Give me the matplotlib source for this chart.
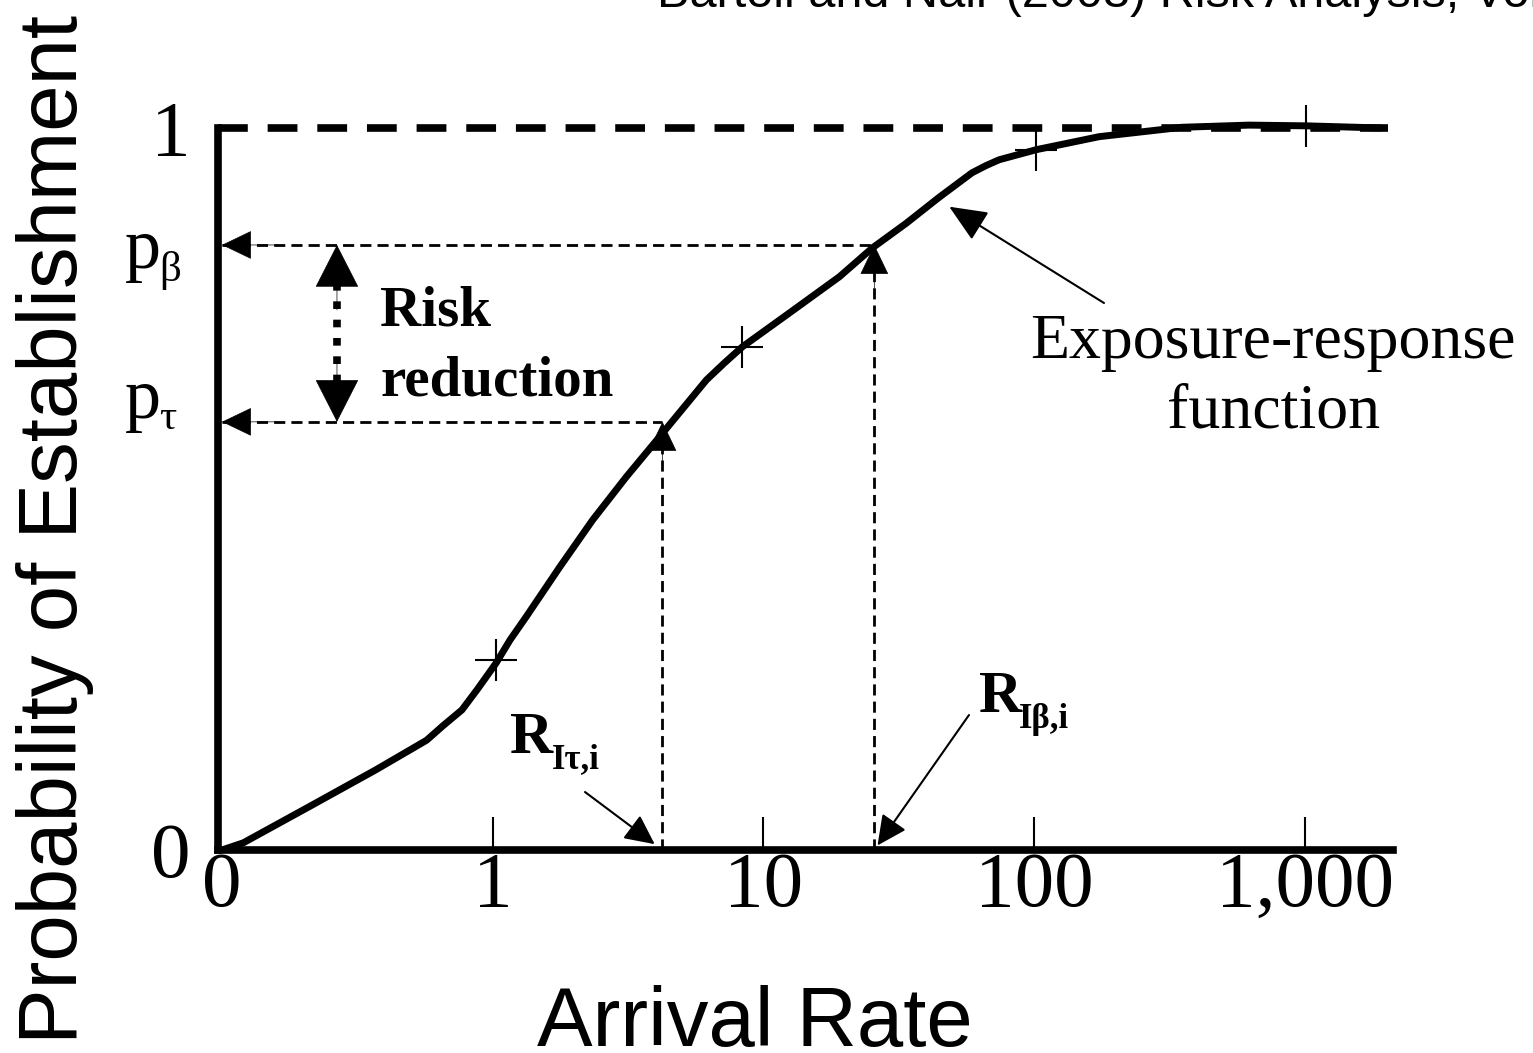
import matplotlib.pyplot as plt

W, H = 1533, 1053
DPI = 100

# exposure-response curve (arrival rate, probability of establishment)
rates = [0.1, 0.12, 0.21, 0.37, 0.57, 0.655, 0.77, 0.88, 1.03, 1.16, 1.33, 1.77,
         2.34, 3.12, 4.13, 6.16, 7.2, 8.37, 12.5, 19.1, 25.3, 33.7, 44.6, 59.0,
         66.5, 74.3, 102, 174, 352, 622, 1010, 1920]
probs = [0.0, 0.010, 0.060, 0.111, 0.152, 0.172, 0.194, 0.223, 0.259, 0.291,
         0.323, 0.392, 0.457, 0.517, 0.572, 0.651, 0.675, 0.697, 0.744, 0.794,
         0.834, 0.868, 0.904, 0.938, 0.948, 0.956, 0.970, 0.988, 1.001, 1.004,
         1.003, 1.0]

# '+' marks on the curve
mark_rates = [1.03, 8.37, 102, 1010]
mark_probs = [0.263, 0.697, 0.970, 1.003]

tick_rates = [0.1, 1, 10, 100, 1000]
tick_labels = ['0', '1', '10', '100', '1,000']

p_beta, p_tau = 0.838, 0.593
r_beta, r_tau = 25.7, 4.24
risk_x = 0.266

SERIF = 'Liberation Serif'
SANS = 'Liberation Sans'
plt.rcParams['font.family'] = SERIF


def fpx(x, y):
    # pixel from top-left -> figure fraction
    return x / W, 1 - y / H


def head(ax, xy, xytext, hl, hw, **kw):
    ax.annotate('', xy=xy, xytext=xytext,
                arrowprops=dict(arrowstyle='-|>,head_length=%g,head_width=%g' % (hl, hw),
                                mutation_scale=10, color='k', shrinkA=0, **kw))


fig = plt.figure(figsize=(W / DPI, H / DPI), dpi=DPI)
ax = fig.add_axes([218 / W, 1 - 850 / H, (1393 - 218) / W, (850 - 128) / H])
ax.set_xscale('log')
ax.set_xlim(0.0967, 2118)
ax.set_ylim(0, 1)
ax.patch.set_visible(False)
for s in ['top', 'right']:
    ax.spines[s].set_visible(False)
for s in ['left', 'bottom']:
    ax.spines[s].set_linewidth(5.5)
    ax.spines[s].set_capstyle('projecting')

ax.set_xticks(tick_rates, tick_labels)
ax.minorticks_off()
ax.tick_params(axis='x', direction='in', length=24, width=1.5, pad=1, labelsize=57)
ax.xaxis.get_major_ticks()[0].tick1line.set_visible(False)
ax.set_yticks([0, 1], ['0', '1'])
ax.tick_params(axis='y', length=0, pad=20, labelsize=57)

# asymptote at 1
ax.axhline(1, 0, 0.996, color='k', lw=5.5, ls=(0, (3.9, 2.6)), clip_on=False)

# guide lines
dash = (0, (4, 2.2))
ax.plot([r_tau, r_tau], [0, p_tau], color='k', lw=2, ls=dash)
ax.plot([r_beta, r_beta], [0, p_beta], color='k', lw=2, ls=dash)
ax.plot([0.1, r_tau], [p_tau, p_tau], color='k', lw=2, ls=dash)
ax.plot([0.1, r_beta], [p_beta, p_beta], color='k', lw=2, ls=dash)
head(ax, (r_tau, p_tau), (r_tau, p_tau - 0.06), 2.0, 0.96, lw=0.5, shrinkB=0)
head(ax, (r_beta, p_beta), (r_beta, p_beta - 0.06), 2.0, 0.96, lw=0.5, shrinkB=0)
head(ax, (0.1, p_tau), (0.16, p_tau), 2.0, 0.96, lw=0.5, shrinkB=0)
head(ax, (0.1, p_beta), (0.16, p_beta), 2.0, 0.96, lw=0.5, shrinkB=0)

# risk reduction double arrow
ax.plot([risk_x, risk_x], [p_beta - 0.053, p_tau + 0.051], color='k', lw=5.5,
        ls=(0, (1, 1.4)), dash_capstyle='butt')
head(ax, (risk_x, p_beta), (risk_x, p_beta - 0.09), 2.92, 1.49, lw=0.5, shrinkB=0)
head(ax, (risk_x, p_tau), (risk_x, p_tau + 0.09), 2.92, 1.49, lw=0.5, shrinkB=0)

# curve
ax.plot(rates, probs, color='k', lw=5, clip_on=False,
        solid_capstyle='butt', solid_joinstyle='round')
ax.plot(mark_rates, mark_probs, ls='none', marker='+', ms=30, mew=1.5,
        color='k', clip_on=False)

# labels
fig.text(*fpx(380, 325), 'Risk', fontsize=41, fontweight='bold', va='baseline')
fig.text(*fpx(380, 395), 'reduction', fontsize=41, fontweight='bold', va='baseline')

fig.text(*fpx(125, 268), 'p', fontsize=52, va='baseline')
fig.text(*fpx(159, 281), '\u03b2', fontsize=31, va='baseline')
fig.text(*fpx(125, 418), 'p', fontsize=52, va='baseline')
fig.text(*fpx(159, 429), '\u03c4', fontsize=31, va='baseline')

fig.text(*fpx(510, 753), 'R', fontsize=43, fontweight='bold', va='baseline')
fig.text(*fpx(552, 768), 'I\u03c4,i', fontsize=25, fontweight='bold', va='baseline')
fig.text(*fpx(979, 712), 'R', fontsize=43, fontweight='bold', va='baseline')
fig.text(*fpx(1019, 728), 'I\u03b2,i', fontsize=25, fontweight='bold', va='baseline')

ap = dict(arrowstyle='-|>,head_length=1.83,head_width=0.89', mutation_scale=10,
          lw=1.5, color='k', shrinkA=0)
ax.annotate('', xy=(r_tau, 0), xytext=(585, H - 792), textcoords='figure pixels',
            arrowprops=dict(ap, shrinkB=7))
ax.annotate('', xy=(r_beta, 0), xytext=(969, H - 715), textcoords='figure pixels',
            arrowprops=dict(ap, shrinkB=4))

fig.text(*fpx(1273, 358), 'Exposure-response', fontsize=46, ha='center', va='baseline')
fig.text(*fpx(1274, 428), 'function', fontsize=46, ha='center', va='baseline')
ax.annotate('', xy=(48.6, 0.891), xytext=(1104, H - 303), textcoords='figure pixels',
            arrowprops=dict(arrowstyle='-|>,head_length=2.35,head_width=1.02',
                            mutation_scale=10, lw=1.5, color='k', shrinkA=0, shrinkB=0))

fig.text(*fpx(657, 7), 'Bartoli and Nair (2008) Risk Analysis, Vol. 28, No. 3',
         fontsize=35, family=SANS, va='baseline')
fig.text(*fpx(755, 1046), 'Arrival Rate', fontsize=60, family=SANS,
         ha='center', va='baseline')
fig.text(*fpx(55, 530), 'Probability of Establishment', fontsize=60, family=SANS,
         rotation=90, ha='center', va='center')

fig.savefig('out.png', dpi=DPI)
